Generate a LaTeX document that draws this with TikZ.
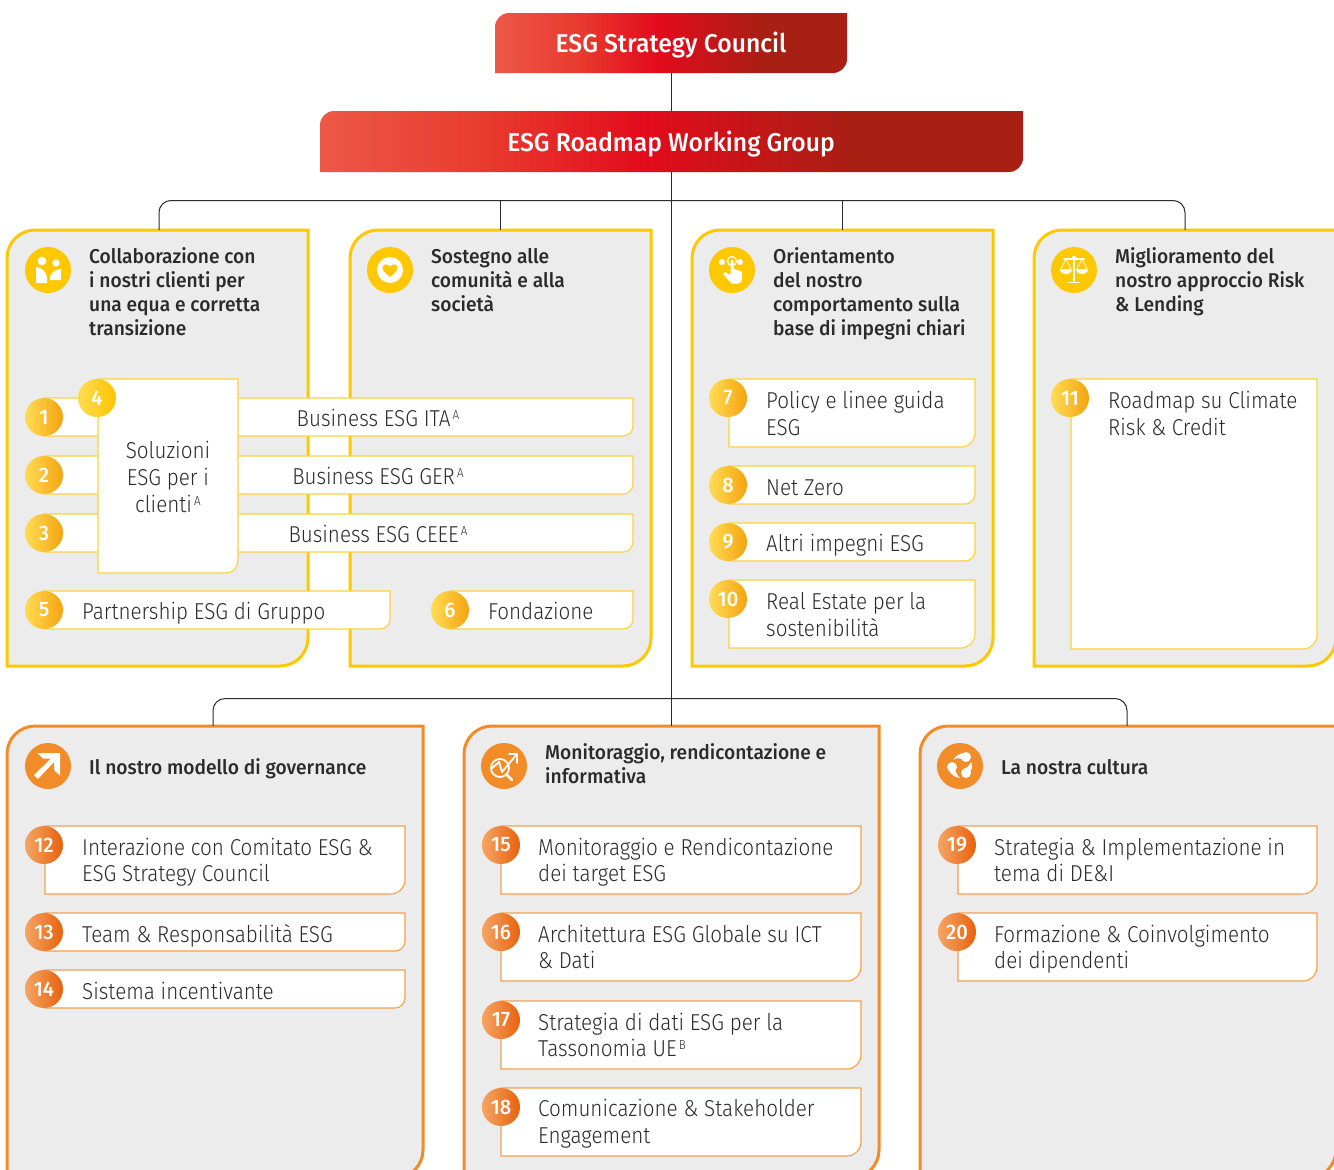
\documentclass[tikz,border=0pt]{standalone}
\usepackage{fontspec}
\setmainfont{Fira Sans}
\newfontfamily\lightf{Fira Sans Light}[FakeStretch=0.897]
\newfontfamily\boldf{Fira Sans Medium}[FakeStretch=0.96]
\usetikzlibrary{calc}
\definecolor{yel}{HTML}{FFC800}
\definecolor{yelb}{HTML}{FFD23C}
\definecolor{org}{HTML}{F28C28}
\definecolor{orgb}{HTML}{F5A04A}
\definecolor{cardg}{HTML}{ECECEC}
\definecolor{ink}{HTML}{2B2B2B}
\definecolor{rl}{HTML}{EC5848}
\definecolor{rm}{HTML}{E83A2E}
\definecolor{rr}{HTML}{E30B1C}
\definecolor{rd}{HTML}{A81F14}
\definecolor{nyl}{HTML}{FFDC55}
\definecolor{nym}{HTML}{FFC000}
\definecolor{nyr}{HTML}{F5A30F}
\definecolor{nyq}{HTML}{FFC400}
\definecolor{nol}{HTML}{F5A565}
\definecolor{nom}{HTML}{F07C20}
\definecolor{nor}{HTML}{E8610C}
\pgfdeclarehorizontalshading{redg}{100bp}{color(0bp)=(rl);color(25bp)=(rl);color(37bp)=(rm);color(48bp)=(rr);color(63bp)=(rd);color(100bp)=(rd)}
\tikzset{
  conn/.style={draw=ink,line width=1pt},
  ycard/.style={draw=yel,line width=3pt,fill=cardg},
  ocard/.style={draw=org,line width=3pt,fill=cardg},
  redbox/.style={shading=redg},
  ybar/.style={draw=yelb,line width=1.1pt,fill=white},
  obar/.style={draw=orgb,line width=1.1pt,fill=white},
  numbase/.style={circle,minimum size=38pt,inner sep=0pt,text=white,font=\boldf\fontsize{21}{21}\selectfont,shading angle=-45},
  numy/.style={numbase,left color=nyl,middle color=nym,right color=nyr},
  numyb/.style={numbase,left color=nyl,right color=nyq},
  numo/.style={numbase,left color=nol,middle color=nom,right color=nor},
  title/.style={anchor=west,align=left,inner sep=0pt,text=ink,font=\boldf\fontsize{20}{24}\selectfont},
  label/.style={anchor=west,align=left,inner sep=0pt,text=ink,font=\lightf\fontsize{23}{26.5}\selectfont},
  clabel/.style={align=center,inner sep=0pt,text=ink,font=\lightf\fontsize{23}{27}\selectfont},
  head/.style={align=center,inner sep=0pt,text=white,font=\boldf\fontsize{25.7}{26}\selectfont},
  icony/.style={circle,minimum size=46pt,inner sep=0pt,fill=yel},
  icono/.style={circle,minimum size=46pt,inner sep=0pt,fill=org},
  glyph/.style={fill=white,draw=none},
  glyphl/.style={draw=white,line width=1.8pt,line cap=round,line join=round},
}
% #1 name, #2 x1, #3 y1, #4 x2, #5 y2, #6 radius, #7 style, rounded at top-left and bottom-right
\newcommand{\slab}[7]{%
  \path[#7] ({#2},{#3+#6}) .. controls ({#2},{#3+0.45*#6}) and ({#2+0.45*#6},{#3}) .. ({#2+#6},{#3})
    -- ({#4},{#3}) -- ({#4},{#5-#6})
    .. controls ({#4},{#5-0.45*#6}) and ({#4-0.45*#6},{#5}) .. ({#4-#6},{#5})
    -- ({#2},{#5}) -- cycle;
  \node[inner sep=0pt,minimum width={(#4-#2)*1pt},minimum height={(#5-#3)*1pt}] (#1) at ({(#2+#4)/2},{(#3+#5)/2}) {};
}
% bar with square top-left and rounded bottom-right
\newcommand{\barbox}[7]{%
  \path[#7] ({#2},{#3}) -- ({#4},{#3}) -- ({#4},{#5-#6})
    .. controls ({#4},{#5-0.45*#6}) and ({#4-0.45*#6},{#5}) .. ({#4-#6},{#5})
    -- ({#2},{#5}) -- cycle;
  \node[inner sep=0pt,minimum width={(#4-#2)*1pt},minimum height={(#5-#3)*1pt}] (#1) at ({(#2+#4)/2},{(#3+#5)/2}) {};
}
\newcommand{\supl}[1]{\raisebox{0.62ex}{\fontsize{13}{13}\selectfont\,#1}}
\begin{document}
\begin{tikzpicture}[x=1pt,y=-1pt]
\useasboundingbox (0,0) rectangle (1334,1170);
\clip (0,0) rectangle (1334,1170);
% cards
\slab{c1}{7}{230}{308}{666}{28}{ycard}
\slab{c2}{350}{230}{651}{666}{28}{ycard}
\slab{c3}{692}{230}{993}{666}{28}{ycard}
\slab{c4}{1034}{230}{1336}{666}{28}{ycard}
\slab{o1}{7}{726}{423}{1178}{28}{ocard}
\slab{o2}{464}{726}{879}{1178}{28}{ocard}
\slab{o3}{920}{726}{1336}{1178}{28}{ocard}
% header boxes
\slab{strat}{495}{13}{847}{73}{14}{redbox}
\slab{wg}{320}{111}{1023}{172}{14}{redbox}
\node[head] (stratt) at (671,45.5) {ESG Strategy Council};
\node[head] (wgt) at (671,144.5) {ESG Roadmap Working Group};
% connectors
\coordinate (busa) at (671.5,200.5);
\coordinate (busb) at (671.5,698.5);
\draw[conn] (strat.south -| busa) -- (wg.north -| busa);
\draw[conn] (wg.south -| busa) -- (o2.north -| busa);
\draw[conn,rounded corners=12pt] (c1.north -| 159,0) |- (busa) -| (c4.north -| 1185,0);
\draw[conn] (c2.north) -- (c2.north |- busa);
\draw[conn] (c3.north) -- (c3.north |- busa);
\draw[conn,rounded corners=12pt] (o1.north -| 213,0) |- (busb) -| (o3.north -| 1127,0);
% titles
\node[title] (t1) at (89,292) {Collaborazione con\\i nostri clienti per\\una equa e corretta\\transizione};
\node[title] (t2) at (431,280) {Sostegno alle\\comunità e alla\\società};
\node[title] (t3) at (773,293.5) {Orientamento\\del nostro\\comportamento sulla\\base di impegni chiari};
\node[title] (t4) at (1115,281.5) {Miglioramento del\\nostro approccio Risk\\\& Lending};
\node[title] (t5) at (89,768.5) {Il nostro modello di governance};
\node[title] (t6) at (545,764) {Monitoraggio, rendicontazione e\\informativa};
\node[title] (t7) at (1001,767) {La nostra cultura};
% bars
\barbox{b1}{44}{398}{633}{436}{10}{ybar}
\barbox{b2}{44}{456}{633}{494}{10}{ybar}
\barbox{b3}{44}{514}{633}{552}{10}{ybar}
\barbox{b4}{98}{379}{238}{573}{12}{ybar}
\barbox{b5}{44}{591}{390}{629}{10}{ybar}
\barbox{b6}{450}{591}{633}{629}{10}{ybar}
\barbox{b7}{729}{379}{975}{447}{14}{ybar}
\barbox{b8}{729}{466}{975}{504}{10}{ybar}
\barbox{b9}{729}{523}{975}{561}{10}{ybar}
\barbox{b10}{729}{580}{975}{648}{14}{ybar}
\barbox{b11}{1071}{379}{1317}{649}{14}{ybar}
\barbox{b12}{45}{826}{405}{894}{14}{obar}
\barbox{b13}{45}{913}{405}{951}{10}{obar}
\barbox{b14}{45}{970}{405}{1008}{10}{obar}
\barbox{b15}{501}{826}{861}{894}{14}{obar}
\barbox{b16}{501}{913}{861}{981}{14}{obar}
\barbox{b17}{501}{1001}{861}{1069}{14}{obar}
\barbox{b18}{501}{1088}{861}{1156}{14}{obar}
\barbox{b19}{958}{826}{1317}{894}{14}{obar}
\barbox{b20}{958}{913}{1317}{981}{14}{obar}
% bar labels
\node[clabel] (l1) at (378,418) {Business ESG ITA\supl{A}};
\node[clabel] (l2) at (378,476) {Business ESG GER\supl{A}};
\node[clabel] (l3) at (378,534) {Business ESG CEEE\supl{A}};
\node[clabel] (l4) at (168,477) {Soluzioni\\ESG per i\\clienti\supl{A}};
\node[label] (l5) at (82,613) {Partnership ESG di Gruppo};
\node[label] (l6) at (488,611) {Fondazione};
\node[label] (l7) at (766,413.5) {Policy e linee guida\\ESG};
\node[label] (l8) at (766,487.5) {Net Zero};
\node[label] (l9) at (766,545) {Altri impegni ESG};
\node[label] (l10) at (766,614.5) {Real Estate per la\\sostenibilità};
\node[label] (l11) at (1108,413.5) {Roadmap su Climate\\Risk \& Credit};
\node[label] (l12) at (82,862) {Interazione con Comitato ESG \&\\ESG Strategy Council};
\node[label] (l13) at (82,936) {Team \& Responsabilità ESG};
\node[label] (l14) at (82,991) {Sistema incentivante};
\node[label] (l15) at (538,862) {Monitoraggio e Rendicontazione\\dei target ESG};
\node[label] (l16) at (538,947) {Architettura ESG Globale su ICT\\\& Dati};
\node[label] (l17) at (538,1035) {Strategia di dati ESG per la\\Tassonomia UE\supl{B}};
\node[label] (l18) at (538,1123.5) {Comunicazione \& Stakeholder\\Engagement};
\node[label] (l19) at (994,860) {Strategia \& Implementazione in\\tema di DE\&I};
\node[label] (l20) at (994,949) {Formazione \& Coinvolgimento\\dei dipendenti};
% number circles
\foreach \n/\x/\y in {1/44/417,2/44/475,3/44/533,5/44/610,6/450/610,7/728/398,8/728/485,9/728/542,10/728/599,11/1070/398}
  \node[numy] (n\n) at (\x,\y) {\n};
\node[numyb] (n4) at (97,398) {4};
\foreach \n/\x/\y in {12/44/845,13/44/932,14/44/989,15/501/845,16/501/932,17/501/1020,18/501/1107,19/957/845,20/957/932}
  \node[numo] (n\n) at (\x,\y) {\n};
% icons
\node[icony] (i1) at (48,270) {};
\begin{scope}[shift={(i1.center)}]
  \fill[white] (-6,-9) circle (4.3) (8,-7) circle (3.6);
  \path[glyph] (-12,-3) .. controls (-8,-3) and (-2,1) .. (-1,7) -- (-1,13) -- (-12,13) -- cycle;
  \path[glyph] (13,-1) .. controls (9,-1) and (3,2) .. (2,7) -- (2,10) -- (13,10) -- cycle;
\end{scope}
\node[icony] (i2) at (390,270) {};
\begin{scope}[shift={(i2.center)}]
  \fill[white] (0,0) circle (13);
  \path[fill=yel] (0,7) .. controls (-5,3) and (-8,0) .. (-7.5,-3) .. controls (-7,-6) and (-2,-7) .. (0,-3) .. controls (2,-7) and (7,-6) .. (7.5,-3) .. controls (8,0) and (5,3) .. (0,7) -- cycle;
\end{scope}
\node[icony] (i3) at (732,270) {};
\begin{scope}[shift={(i3.center)}]
  \fill[white] (-10,-8) circle (3) (8,-8) circle (3);
  \draw[white,line width=1.2pt] (0,-9) circle (4.5);
  \path[glyph] (-1.5,-9) .. controls (-1.5,-11) and (1.5,-11) .. (1.5,-9) -- (1.5,-1) -- (10,1.5) -- (10,9) .. controls (10,13) and (6,14) .. (3,14) .. controls (0,14) and (-2,13) .. (-3,11) -- (-9,4) -- (-7,2) -- (-1.5,5) -- cycle;
\end{scope}
\node[icony] (i4) at (1074,270) {};
\begin{scope}[shift={(i4.center)}]
  \draw[glyphl] (0,-12) -- (0,11) (-5,12.5) -- (5,12.5) (-10,-11) -- (10,-11);
  \fill[white] (0,-12) circle (2.2);
  \draw[white,line width=0.7pt] (-8,-11) -- (-13,-1) (-8,-11) -- (-3,-1) (8,-11) -- (13,-1) (8,-11) -- (3,-1);
  \path[glyph] (-14,-1) -- (-2,-1) .. controls (-2,6) and (-14,6) .. (-14,-1) -- cycle;
  \path[glyph] (14,-1) -- (2,-1) .. controls (2,6) and (14,6) .. (14,-1) -- cycle;
\end{scope}
\node[icono] (i5) at (48,766) {};
\begin{scope}[shift={(i5.center)}]
  \path[glyph] (-10.5,-13) -- (12,-13) -- (12,9.5) -- (6,4) -- (6,-4) -- (-10,13) -- (-14,9) -- (3,-7.5) -- (-5,-7.5) -- cycle;
\end{scope}
\node[icono] (i6) at (504,766) {};
\begin{scope}[shift={(i6.center)}]
  \draw[glyphl] (-4,2) circle (9);
  \draw[glyphl,line width=2.6pt] (3,9) -- (8,14);
  \draw[glyphl] (-13,3) -- (-5,-4) -- (-2,6) -- (13,-12) (5,-12) -- (13,-12) -- (13,-3);
\end{scope}
\node[icono] (i7) at (960,766) {};
\begin{scope}[shift={(i7.center)}]
  \fill[white] (6,-9) circle (5) (6,7) circle (5) (-8,1) circle (5);
  \path[glyph] (6,-13) .. controls (0,-13) and (-4,-11) .. (-7,-6) .. controls (-3,-9) and (1,-8) .. (5,-5) -- cycle;
  \path[glyph] (10,6) .. controls (12,3) and (13,0) .. (11,-4) .. controls (10,-1) and (8,1) .. (4,3) -- cycle;
  \path[glyph] (-11,4) .. controls (-10,8) and (-6,11) .. (0,12) .. controls (-3,9) and (-4,7) .. (-5,4) -- cycle;
\end{scope}
\end{tikzpicture}
\end{document}
